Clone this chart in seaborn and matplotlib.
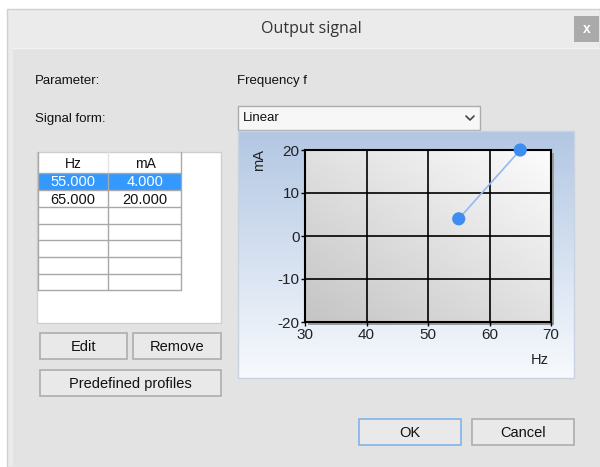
import numpy as np
import matplotlib
matplotlib.use("Agg")
import matplotlib.pyplot as plt
import seaborn as sns
from matplotlib.patches import Rectangle

# data for the signal profile
hz = [55.0, 65.0]
ma = [4.0, 20.0]
col_names = ["Hz", "mA"]
x_ticks = [30, 40, 50, 60, 70]
y_ticks = [-20, -10, 0, 10, 20]

sns.set_theme(style="white")
plt.rcParams['font.family'] = ['Liberation Sans', 'DejaVu Sans']
plt.rcParams['axes.unicode_minus'] = False

fig = plt.figure(figsize=(6, 4.67), dpi=100)
bg = fig.add_axes([0, 0, 1, 1])
bg.set_xlim(0, 600)
bg.set_ylim(467, 0)
bg.axis('off')

def box(x0, y0, x1, y1, fc, ec='none', lw=1, z=1):
    bg.add_patch(Rectangle((x0, y0), x1 - x0, y1 - y0, facecolor=fc, edgecolor=ec, lw=lw, zorder=z))

# window frame
box(0, 0, 600, 467, '#ffffff', z=0)
box(7, 9, 600, 467, '#ebebeb', ec='#d0d0d0', z=0)
box(13, 48, 600, 467, '#e3e3e3', z=0)
bg.plot([13, 600], [48, 48], color='#f3f3f3', lw=1, zorder=1)
box(574, 16, 599, 42, '#aaaaaa', z=2)
bg.text(586.5, 29, "x", ha='center', va='center', color='white', fontsize=10, fontweight='bold', zorder=3)
bg.text(311, 29, "Output signal", ha='center', va='center', fontsize=11.5, color='#333333',
        family=['Open Sans', 'DejaVu Sans'], zorder=3)

# labels
bg.text(35, 81, "Parameter:", va='center', fontsize=9.5, color='#111111')
bg.text(237, 81, "Frequency f", va='center', fontsize=9.5, color='#111111')
bg.text(35, 119, "Signal form:", va='center', fontsize=9.5, color='#111111')

# combo box
box(238, 106, 480, 130, '#f7f7f7', ec='#acacac', z=2)
bg.text(243, 118, "Linear", va='center', fontsize=9.5, color='#111111', zorder=3)
bg.plot([466, 470, 474], [116, 120, 116], color='#444444', lw=1.2, zorder=3)

# chart panel gradient
grad = np.linspace(0, 1, 256)[:, None]
top = np.array([0.70, 0.78, 0.89])
bot = np.array([0.97, 0.98, 0.995])
panel = top[None, None, :] * (1 - grad[..., None]) + bot[None, None, :] * grad[..., None]
panel = np.repeat(panel, 2, axis=1)
bg.imshow(panel, extent=(238, 574, 378, 131), origin='upper', aspect='auto', zorder=1)
box(238, 131, 574, 378, 'none', ec='#c8d2e0', z=2)
# plot shadow
box(308, 153, 554, 325, '#9a9a9a', z=2)

# table area
box(37, 152, 221, 323, '#ffffff', ec='#cfcfcf', z=2)
row_edges = [152, 173, 190, 207, 224, 240, 257, 274, 290]
box(38, 173, 181, 190, '#3399ff', z=3)
for y in row_edges[1:]:
    bg.plot([38, 181], [y, y], color='#a8a8a8', lw=1, zorder=4)
bg.plot([38, 38], [152, 290], color='#a8a8a8', lw=1, zorder=4)
bg.plot([181, 181], [152, 290], color='#a8a8a8', lw=1, zorder=4)
bg.plot([108, 108], [152, 173], color='#e4e4e4', lw=1, zorder=4)
bg.plot([108, 108], [173, 290], color='#a8a8a8', lw=1, zorder=4)
bg.text(73, 164, col_names[0], ha='center', va='center', fontsize=10, color='#111111', zorder=5)
bg.text(145, 164, col_names[1], ha='center', va='center', fontsize=10, color='#111111', zorder=5)
for i, (h, m) in enumerate(zip(hz, ma)):
    yc = (row_edges[i + 1] + row_edges[i + 2]) / 2 + 1
    c = 'white' if i == 0 else '#111111'
    bg.text(73, yc, f"{h:.3f}", ha='center', va='center', fontsize=10.5, color=c, zorder=5)
    bg.text(145, yc, f"{m:.3f}", ha='center', va='center', fontsize=10.5, color=c, zorder=5)

# buttons
def button(x0, y0, x1, y1, label, ec='#adadad'):
    box(x0, y0, x1, y1, '#e9e9e9', ec=ec, lw=1.2, z=2)
    bg.text((x0 + x1) / 2, (y0 + y1) / 2 + 1, label, ha='center', va='center', fontsize=10.5,
            color='#111111', zorder=3)

button(40, 333, 127, 359, "Edit")
button(133, 333, 221, 359, "Remove")
button(40, 370, 221, 396, "Predefined profiles")
button(359, 419, 461, 445, "OK", ec='#7eb4ea')
button(472, 419, 574, 445, "Cancel")

# the plot itself
L, R, T, B = 305, 551, 150, 322
ax = fig.add_axes([L / 600, 1 - B / 467, (R - L) / 600, (B - T) / 467])
ax.set_zorder(5)
yy, xx = np.mgrid[0:1:128j, 0:1:128j]
d = (xx + yy) / 2
shade = 0.77 + 0.22 * d
ax.imshow(np.dstack([shade, shade, shade]), extent=(0, 1, 0, 1), origin='lower',
          transform=ax.transAxes, aspect='auto', zorder=0)

sns.lineplot(x=hz, y=ma, ax=ax, color='#93b9f0', lw=1.2, zorder=3)
sns.scatterplot(x=hz, y=ma, ax=ax, color='#3d8ef0', s=90, edgecolor='none', zorder=4, clip_on=False)

ax.set_xlim(30, 70)
ax.set_ylim(-20, 20)
ax.set_xticks(x_ticks)
ax.set_yticks(y_ticks)
ax.grid(True, color='black', lw=1.2)
ax.set_axisbelow(False)
for sp in ax.spines.values():
    sp.set_color('black')
    sp.set_linewidth(1.5)
ax.tick_params(axis='both', direction='out', length=3, width=1, color='black',
               labelsize=11, labelcolor='#222222', bottom=True, left=True, pad=1)
ax.set_xlabel("")
ax.set_ylabel("")
bg.text(259, 160, "mA", rotation=90, ha='center', va='center', fontsize=10.5, color='#222222', zorder=3)
bg.text(540, 360, "Hz", ha='center', va='center', fontsize=10.5, color='#222222', zorder=3)

fig.savefig("out.png", dpi=100)
